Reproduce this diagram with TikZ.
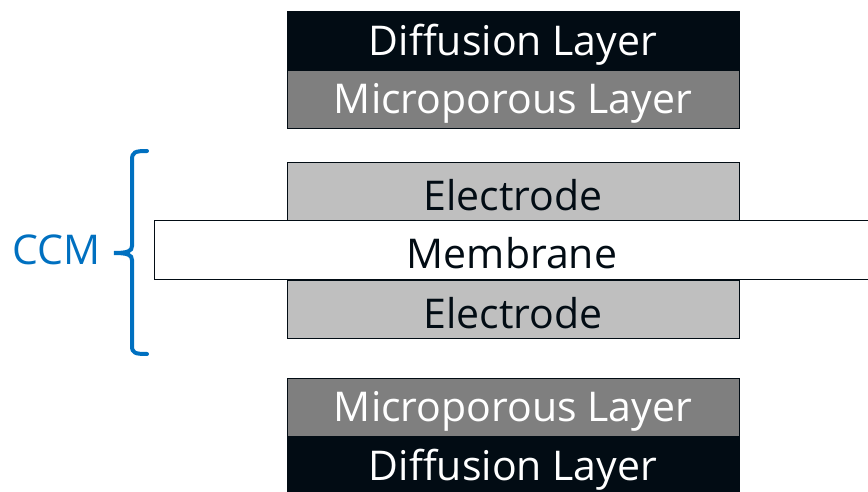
\documentclass[tikz,border=0pt]{standalone}
\usepackage{fontspec}
\setmainfont{Open Sans}
\definecolor{dl}{HTML}{020C14}
\definecolor{mpl}{HTML}{7F7F7F}
\definecolor{el}{HTML}{BFBFBF}
\definecolor{ccm}{HTML}{0070C0}
\begin{document}
\begin{tikzpicture}[x=1pt,y=-1pt,
  txt/.style={font=\fontsize{41}{46}\selectfont},
  layer/.style={draw=dl,line width=1.3pt,minimum width=452pt,minimum height=58pt,inner sep=0pt,anchor=north west,txt},
  darkl/.style={layer,fill=dl,text=white},
  mpll/.style={layer,fill=mpl,text=white},
  ell/.style={layer,fill=el,text=dl},
  memb/.style={layer,fill=white,text=dl,minimum width=720pt,minimum height=59pt}]
\useasboundingbox (0,0) rectangle (868,492);
\node[darkl] (d1) at (287,11) {};
\node[mpll] (m1) at (287,70) {};
\node[ell] (e1) at (287,162) {};
\node[memb] (mb) at (154,220) {};
\node[ell] (e2) at (287,280) {};
\node[mpll] (m2) at (287,378) {};
\node[darkl,minimum height=70pt] (d2) at (287,437) {};
\node[txt,text=white] (t1) at (513,45) {Diffusion Layer};
\node[txt,text=white] (t2) at (513,103) {Microporous Layer};
\node[txt,text=dl] (t3) at (513,195) {Electrode};
\node[txt,text=dl] (mt) at (512,253) {Membrane};
\node[txt,text=dl] (t5) at (513,313) {Electrode};
\node[txt,text=white] (t6) at (513,411) {Microporous Layer};
\node[txt,text=white] (dt) at (513,470) {Diffusion Layer};
\node[txt,text=ccm,anchor=east] (ccmt) at (104,250) {CCM};
\coordinate (bt) at (147,151);
\coordinate (bb) at (147,354);
\coordinate (bm) at (114,253);
\draw[ccm,line width=4pt,line cap=round] (bt) .. controls (135,151) and (132,152) .. (132,160)
  -- (132,246) .. controls (132,251) and (128,253) .. (bm)
  .. controls (128,253) and (132,255) .. (132,260)
  -- (132,346) .. controls (132,353) and (135,354) .. (bb);
\end{tikzpicture}
\end{document}
